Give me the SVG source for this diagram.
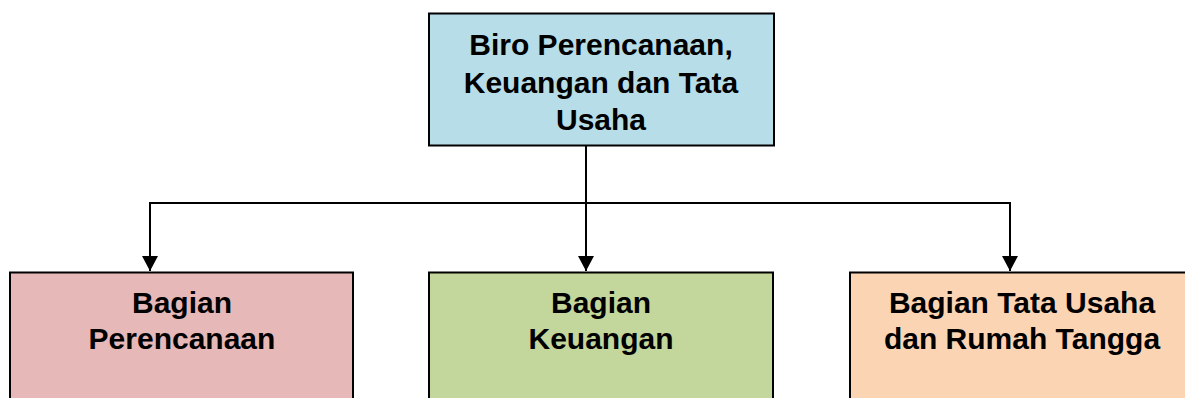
<svg xmlns="http://www.w3.org/2000/svg" width="1185" height="398" viewBox="0 0 1185 398">
  <style>
    .box { stroke: #000; stroke-width: 2; }
    .lbl { font-family: "Liberation Sans", Arial, sans-serif; font-weight: bold; font-size: 30px; fill: #000; text-anchor: middle; }
    .conn { fill: none; stroke: #000; stroke-width: 2; }
  </style>
  <defs>
    <marker id="arrow" markerUnits="userSpaceOnUse" markerWidth="16" markerHeight="16" viewBox="0 0 16 16" refX="15" refY="8" orient="auto">
      <path d="M0,0 L15,8 L0,16 Z" fill="#000"/>
    </marker>
  </defs>
  <rect width="1185" height="398" fill="#fff"/>
  <g id="connectors">
    <path class="conn" d="M586,146 V203"/>
    <path class="conn" d="M150,203 H1010"/>
    <path class="conn" d="M150,202 V271" marker-end="url(#arrow)"/>
    <path class="conn" d="M586,202 V271" marker-end="url(#arrow)"/>
    <path class="conn" d="M1010,202 V271" marker-end="url(#arrow)"/>
  </g>
  <g id="biro">
    <rect class="box" x="429" y="13.5" width="345" height="132" fill="#B7DDE8"/>
    <text class="lbl" x="601" y="55">Biro Perencanaan,</text>
    <text class="lbl" x="601" y="93">Keuangan dan Tata</text>
    <text class="lbl" x="601" y="130">Usaha</text>
  </g>
  <g id="perencanaan">
    <rect class="box" x="10" y="272.5" width="343" height="140" fill="#E6B8B7"/>
    <text class="lbl" x="182" y="313">Bagian</text>
    <text class="lbl" x="182" y="349">Perencanaan</text>
  </g>
  <g id="keuangan">
    <rect class="box" x="429" y="272.5" width="344" height="140" fill="#C3D69B"/>
    <text class="lbl" x="601" y="313">Bagian</text>
    <text class="lbl" x="601" y="349">Keuangan</text>
  </g>
  <g id="tatausaha">
    <rect class="box" x="850" y="272.5" width="344" height="140" fill="#FBD4B4"/>
    <text class="lbl" x="1022" y="313">Bagian Tata Usaha</text>
    <text class="lbl" x="1022" y="349">dan Rumah Tangga</text>
  </g>
</svg>
